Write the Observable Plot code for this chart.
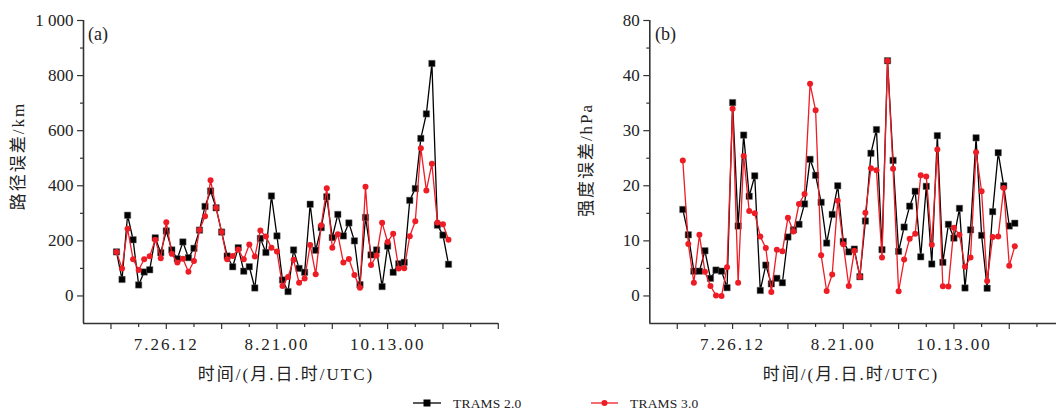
<!DOCTYPE html>
<html>
<head>
<meta charset="utf-8">
<script src="https://cdn.jsdelivr.net/npm/d3@7"></script>
<script src="https://cdn.jsdelivr.net/npm/@observablehq/plot@0.6"></script>
<style>
  html, body { margin: 0; padding: 0; background: #fff; overflow: hidden; }
  #wrap { position: relative; width: 1056px; height: 412px; font-family: "Liberation Serif", "Noto Sans CJK SC", serif; color: #222; }
  .panel { position: absolute; top: 0; }
  .lbl { position: absolute; white-space: nowrap; font-size: 17px; color: #222; }
  .xt { transform: translate(-50%, -50%); letter-spacing: 2px; }
  .yt { transform: translate(-50%, -50%) rotate(-90deg); letter-spacing: 2px; }
  svg [aria-label="x-axis tick label"] text { letter-spacing: 2px; }
</style>
</head>
<body>
<div id="wrap"></div>
<script>
// ---- data ----
// index of forecast time (one point per forecast)
const nPoints = 61;
// x tick labels (month.day.hour UTC) and their positions in the series index
const xLabelPos = [9, 29, 49];
const xLabelText = ["7.26.12", "8.21.00", "10.13.00"];

// (a) track error, km
const trackT2 = [160,60,293,204,40,87,95,211,157,236,167,135,196,139,173,239,325,381,320,232,
                 145,106,175,90,106,29,209,158,363,218,58,16,167,100,86,333,166,248,360,212,
                 296,218,265,200,41,285,149,167,34,181,86,117,122,347,390,572,661,844,257,221,115];
const trackT3 = [160,100,244,133,94,133,144,204,137,268,153,121,135,88,127,239,289,420,320,232,
                 133,145,169,133,187,143,238,216,175,161,36,69,131,48,63,185,79,257,391,175,
                 224,121,134,76,30,396,112,147,266,196,226,100,101,217,271,536,383,480,267,260,204];
// (b) intensity error, hPa
const intT2 = [15.7,11.1,4.5,4.5,8.2,3.2,4.7,4.5,1.5,35.1,12.7,29.2,18.1,21.8,1.0,5.6,2.2,3.2,2.4,10.7,
               12.0,13.0,16.7,24.8,21.9,17.0,9.6,14.8,20.0,9.9,8.0,8.5,3.5,13.6,25.9,30.2,8.4,42.7,24.6,8.1,
               12.5,16.3,19.0,7.1,19.9,5.8,29.1,6.1,13.0,10.5,15.9,1.45,12.0,28.7,11.0,1.4,15.3,26.0,20.0,12.7,13.2];
const intT3 = [24.6,9.45,2.4,11.1,4.4,1.8,0.1,0.0,5.2,34.0,2.4,25.4,15.4,15.0,10.8,8.7,0.7,8.4,8.1,14.2,
               11.7,16.7,18.5,38.5,33.7,7.4,0.9,3.9,17.3,9.4,1.8,8.2,3.5,15.1,23.2,22.8,7.0,42.7,23.1,0.85,
               6.6,10.4,11.3,21.9,21.7,9.3,26.6,1.75,1.7,12.4,11.1,5.3,7.0,26.1,19.0,2.7,10.7,10.8,19.6,5.5,9.0];

const seriesNames = ["TRAMS 2.0", "TRAMS 3.0"];
const yTicksA = [0, 200, 400, 600, 800, 1000];
const yTicksB = [0, 10, 20, 30, 40, 50];
const yTickTextB = ["0", "10", "20", "30", "40", "80"];

// ---- drawing ----
const BLACK = "#000";
const RED = "#ee1c25";
const AX = "#333";
const idx = d3.range(nPoints);

function panel({s2, s3, yDomain, yMajor, yMinor, yFmt, xDomain, width, marginLeft, marginRight}) {
  const xMajor = d3.range(-1, 70, 10).filter(v => v >= xDomain[0] && v <= xDomain[1] + 1e-6);
  const xMinor = d3.range(4, 70, 10).filter(v => v >= xDomain[0] && v <= xDomain[1] + 1e-6);
  return Plot.plot({
    width, height: 362,
    marginLeft, marginRight, marginTop: 20, marginBottom: 39,
    x: {domain: xDomain},
    y: {domain: yDomain},
    style: {fontFamily: "Liberation Serif, serif", fontSize: "17px", color: "#222", background: "transparent"},
    marks: [
      Plot.axisY({ticks: yMajor, tickSize: 6, tickPadding: 4, tickFormat: yFmt, stroke: AX, strokeWidth: 1.2}),
      Plot.axisY({ticks: yMinor, tickSize: 3, tickFormat: () => "", stroke: AX, strokeWidth: 1.2}),
      Plot.axisX({ticks: xMajor, tickSize: 6, tickPadding: 8, stroke: AX, strokeWidth: 1.2,
        tickFormat: d => { const k = xLabelPos.indexOf(d); return k >= 0 ? xLabelText[k] : ""; }}),
      Plot.axisX({ticks: xMinor, tickSize: 4, tickFormat: () => "", stroke: AX, strokeWidth: 1.2}),
      Plot.ruleX([xDomain[0]], {stroke: AX, strokeWidth: 1.6}),
      Plot.ruleY([yDomain[0]], {stroke: AX, strokeWidth: 1.6}),
      Plot.line(idx, {x: d => d, y: i => s2[i], stroke: BLACK, strokeWidth: 1.3}),
      Plot.dot(idx, {x: d => d, y: i => s2[i], symbol: "square", r: 3.6, fill: BLACK, stroke: "#666", strokeWidth: 0.5}),
      Plot.line(idx, {x: d => d, y: i => s3[i], stroke: RED, strokeWidth: 1.3}),
      Plot.dot(idx, {x: d => d, y: i => s3[i], r: 3, fill: RED, stroke: "none"})
    ]
  });
}

const wrap = document.getElementById("wrap");
const x0 = -5.964;

const pa = panel({
  s2: trackT2, s3: trackT3, yDomain: [-100, 1000],
  yMajor: yTicksA, yMinor: [100, 300, 500, 700, 900],
  yFmt: d => d === 1000 ? "1 000" : String(d),
  xDomain: [x0, x0 + 75], width: 528, marginLeft: 83, marginRight: 30
});
const da = document.createElement("div"); da.className = "panel"; da.style.left = "0px"; da.appendChild(pa); wrap.appendChild(da);

const pbLeft = 528, pbMarginLeft = 649.3 - 528;
const pbRightIndex = x0 + (1056 - 649.3) / (415 / 75);
const pb = panel({
  s2: intT2, s3: intT3, yDomain: [-5, 50],
  yMajor: yTicksB, yMinor: [5, 15, 25, 35, 45],
  yFmt: d => yTickTextB[yTicksB.indexOf(d)],
  xDomain: [x0, pbRightIndex], width: 528, marginLeft: pbMarginLeft, marginRight: 0
});
const db = document.createElement("div"); db.className = "panel"; db.style.left = pbLeft + "px"; db.appendChild(pb); wrap.appendChild(db);

function label(text, x, y, cls, size) {
  const d = document.createElement("div");
  d.className = "lbl " + (cls || "");
  d.style.left = x + "px"; d.style.top = y + "px";
  if (size) d.style.fontSize = size + "px";
  d.textContent = text;
  wrap.appendChild(d);
  return d;
}
label("(a)", 88, 24, "", 18);
label("(b)", 655, 24, "", 18);
label("时间/(月.日.时/UTC)", 286, 372, "xt");
label("时间/(月.日.时/UTC)", 851, 372, "xt");
label("路径误差/km", 16, 156, "yt");
label("强度误差/hPa", 584, 160, "yt");

// legend
const leg = document.createElementNS("http://www.w3.org/2000/svg", "svg");
leg.setAttribute("width", 1056); leg.setAttribute("height", 30);
leg.style.position = "absolute"; leg.style.left = "0px"; leg.style.top = "389px";
leg.innerHTML = `
  <line x1="413" x2="441" y1="14" y2="14" stroke="${BLACK}" stroke-width="1.3"/>
  <rect x="423.5" y="10.5" width="7" height="7" fill="${BLACK}"/>
  <line x1="591" x2="618" y1="14" y2="14" stroke="${RED}" stroke-width="1.3"/>
  <circle cx="604.5" cy="14" r="3" fill="${RED}"/>
  <text x="453" y="19" font-family="Liberation Serif, serif" font-size="13.5" letter-spacing="0.2" fill="#222">${seriesNames[0]}</text>
  <text x="630" y="19" font-family="Liberation Serif, serif" font-size="13.5" letter-spacing="0.2" fill="#222">${seriesNames[1]}</text>`;
wrap.appendChild(leg);
</script>
</body>
</html>
